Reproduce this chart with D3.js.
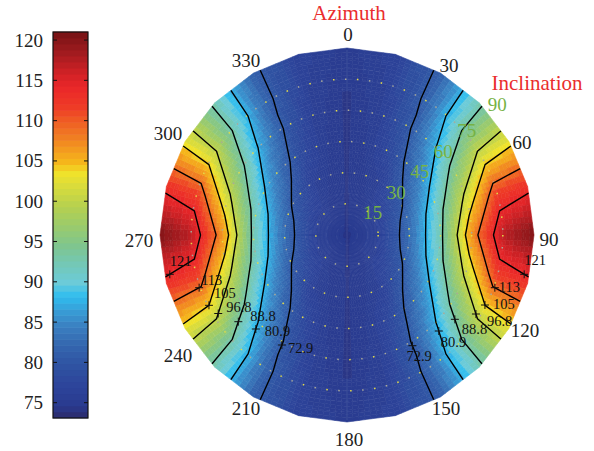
<!DOCTYPE html>
<html><head><meta charset="utf-8">
<script src="https://cdn.jsdelivr.net/npm/d3@7"></script>
<style>
body{margin:0;background:#fff}
svg{display:block}
text{font-family:"Liberation Serif","DejaVu Serif",serif}
</style>
</head><body>
<svg id="c" width="594" height="451"></svg>
<script>
// ================= DATA =================
const azimuths = [0,15,30,45,60,75,90,105,120,135,150,165,180,195,210,225,240,255,270,285,300,315,330,345];
const inclinations = [0,15,30,45,60,75,90];
// surface values, one array per inclination ring, ordered by azimuth
const inc0  = [74.5,74.5,74.5,74.5,74.5,74.5,74.5,74.5,74.5,74.5,74.5,74.5,74.5,74.5,74.5,74.5,74.5,74.5,74.5,74.5,74.5,74.5,74.5,74.5];
const inc15 = [74.5,74.9,75.2,75.6,75.8,75.9,76.0,75.9,75.8,75.6,75.2,74.9,74.5,74.9,75.2,75.6,75.8,75.9,76.0,75.9,75.8,75.6,75.2,74.9];
const inc30 = [74.5,75.2,75.9,78.2,80.1,81.9,82.6,81.9,80.1,78.2,75.9,75.2,74.5,75.2,75.9,78.2,80.1,81.9,82.6,81.9,80.1,78.2,75.9,75.2];
const inc45 = [74.5,75.6,78.2,82.6,87.1,90.9,92.0,90.9,87.1,82.6,78.2,75.6,74.5,75.6,78.2,82.6,87.1,90.9,92.0,90.9,87.1,82.6,78.2,75.6];
const inc60 = [74.5,75.8,80.1,87.2,95.1,102.0,107.0,102.0,95.1,87.2,80.1,75.8,74.5,75.8,80.1,87.2,95.1,102.0,107.0,102.0,95.1,87.2,80.1,75.8];
const inc75 = [74.5,76.2,81.0,91.0,102.0,112.0,117.0,112.0,102.0,91.0,81.0,76.2,74.5,76.2,81.0,91.0,102.0,112.0,117.0,112.0,102.0,91.0,81.0,76.2];
const inc90 = [75.0,76.5,81.2,92.0,103.0,113.0,120.5,113.0,103.0,92.0,81.2,76.5,75.0,76.5,81.2,92.0,103.0,113.0,120.5,113.0,103.0,92.0,81.2,76.5];
const colorDomain = [73.1, 121.0];
const azimuthTicks = [0,30,60,90,120,150,180,210,240,270,300,330];
const inclinationTicks = [15,30,45,60,75,90];
const colorbarTicks = [75,80,85,90,95,100,105,110,115,120];
// contour lines (drawn on the surface field) and their printed labels
const contourLevels = [80.5, 87.5, 93.0, 100.0, 104.0, 109.0, 114.0];
const contourLabels = ["72.9","80.9","88.8","96.8","105","113","121"];

// ================= STYLE / LAYOUT =================
const cmapStops = [
 [0.000,"#2b2a6a"],[0.031,"#2a3a8f"],[0.081,"#2d449a"],[0.134,"#2f52a2"],[0.186,"#3465ae"],
 [0.238,"#3a80c1"],[0.280,"#389fd8"],[0.315,"#2ebdef"],[0.351,"#6ccbd8"],[0.392,"#72c8bb"],
 [0.445,"#7fc58f"],[0.497,"#9acb6c"],[0.547,"#b5d050"],[0.599,"#d8dc3c"],[0.635,"#f1e22a"],
 [0.660,"#f5b91b"],[0.695,"#f39a1f"],[0.729,"#f07c22"],[0.772,"#ef5a24"],[0.806,"#ee3b26"],
 [0.858,"#ea2629"],[0.894,"#d02226"],[0.946,"#a11b1f"],[1.000,"#761214"]
];
const cx = 347, cy = 235, R = 187;
const cb = {x:53, y:32, w:35, h:386};
const azLabelR = 202;
// small per-label nudges for the azimuth labels (same order as azimuthTicks)
const azLabelNudge = [[1,1],[1,5],[0,8],[0,4],[3,-6],[-2,-1],[2,2],[0,-1],[6,19],[-6,5],[-4,-1],[0,0]];
// + marker rows (px below centre) for left / right labels, and text offsets
const labelRowLeft  = [110, 94, 86.7, 78.5, 70.3, 52.7, 39.3];
const labelRowRight = [110.7, 96, 84.3, 79, 70, 52.7, 39.3];
const textOffLeft  = [[6,8],[9,7],[12,-1],[8,-2],[5,-7],[2,-3],[0,-8]];
const textOffRight = [[-6,15],[2,16],[7,15],[11,12],[8,4],[4,4],[0,-9]];

const svg = d3.select("#c");
svg.append("rect").attr("width",594).attr("height",451).attr("fill","#fff");

const rScale = d3.scaleLinear().domain([0,90]).range([0,R]);
const aScale = d3.scaleLinear().domain([0,360]).range([0,2*Math.PI]);
const vScale = d3.scaleLinear().domain(colorDomain).range([0,1]).clamp(true);
const cmap = d3.scaleLinear().domain(cmapStops.map(d=>d[0])).range(cmapStops.map(d=>d[1]))
  .interpolate(d3.interpolateRgb).clamp(true);
const NC = 64;
function colorOf(v){ const k = Math.max(0, Math.min(NC-1, Math.floor(vScale(v)*NC))); return cmap((k+0.5)/NC); }

const rows = [inc0, inc15, inc30, inc45, inc60, inc75, inc90];
const nA = azimuths.length + 1, nI = inclinations.length;
function nodeAz(i){ return i < azimuths.length ? azimuths[i] : 360; }
function node(i,j){ const a = aScale(nodeAz(i)), r = rScale(inclinations[j]); return [cx + r*Math.sin(a), cy - r*Math.cos(a)]; }
function val(i,j){ return rows[j][i % azimuths.length]; }
function bil(p00,p10,p01,p11,u,v){ return (1-u)*(1-v)*p00 + u*(1-v)*p10 + (1-u)*v*p01 + u*v*p11; }
function mapXY(gx, gy){
  let i = Math.max(0, Math.min(Math.floor(gx), nA-2)), j = Math.max(0, Math.min(Math.floor(gy), nI-2));
  const u = gx - i, v = gy - j;
  const a = node(i,j), b = node(i+1,j), c = node(i,j+1), d = node(i+1,j+1);
  return [bil(a[0],b[0],c[0],d[0],u,v), bil(a[1],b[1],c[1],d[1],u,v)];
}

// ---- surface ----
const S = 8, quads = [];
for (let i=0;i<nA-1;i++) for (let j=0;j<nI-1;j++) for (let a=0;a<S;a++) for (let b=0;b<S;b++){
  const u0=a/S,u1=(a+1)/S,v0=b/S,v1=(b+1)/S;
  const pts=[mapXY(i+u0,j+v0),mapXY(i+u1,j+v0),mapXY(i+u1,j+v1),mapXY(i+u0,j+v1)];
  const value = bil(val(i,j),val(i+1,j),val(i,j+1),val(i+1,j+1),(u0+u1)/2,(v0+v1)/2);
  quads.push({pts, value});
}
svg.append("g").selectAll("path").data(quads).join("path")
  .attr("d", d => "M" + d.pts.map(p=>p[0].toFixed(2)+","+p[1].toFixed(2)).join("L") + "Z")
  .attr("fill", d => colorOf(d.value)).attr("stroke", d => colorOf(d.value)).attr("stroke-width",0.6);

// ---- faint mesh lines ----
const gMesh = svg.append("g").attr("fill","none");
gMesh.selectAll("circle").data(d3.range(5,90,5)).join("circle")
  .attr("cx",cx).attr("cy",cy).attr("r",d=>rScale(d))
  .attr("stroke","#ffffff").attr("stroke-opacity",0.08).attr("stroke-width",0.8).attr("stroke-dasharray","4 3");
gMesh.append("line").attr("x1",cx).attr("x2",cx).attr("y1",cy-R+2).attr("y2",cy+R-2)
  .attr("stroke","#ffffff").attr("stroke-opacity",0.12).attr("stroke-width",0.8);

// ---- dotted polar grid rings ----
const gDots = svg.append("g").attr("fill","none");
gDots.selectAll("circle.y").data(inclinationTicks.filter(d=>d<90)).join("circle").attr("class","y")
  .attr("cx",cx).attr("cy",cy).attr("r",d=>rScale(d))
  .attr("stroke","#e4dc48").attr("stroke-width",1.5).attr("stroke-dasharray","1.5 22.5");
gDots.selectAll("circle.g").data(inclinationTicks.filter(d=>d<90)).join("circle").attr("class","g")
  .attr("cx",cx).attr("cy",cy).attr("r",d=>rScale(d))
  .attr("stroke","#a9a99a").attr("stroke-width",1.5).attr("stroke-dasharray","1.5 22.5").attr("stroke-dashoffset",12);

// ---- contours ----
const grid = new Array(nA*nI);
for (let j=0;j<nI;j++) for (let i=0;i<nA;i++) grid[j*nA+i] = val(i,j);
const cs = d3.contours().size([nA,nI]).thresholds(contourLevels)(grid);
function isBorder(p){ return p[0]<=0 || p[0]>=nA || p[1]<=0 || p[1]>=nI; }
const lines = [];
cs.forEach((c,k)=>{
  c.coordinates.forEach(poly=>poly.forEach(ring=>{
    let pts = ring.slice();
    if (pts.length>1 && pts[0][0]===pts[pts.length-1][0] && pts[0][1]===pts[pts.length-1][1]) pts.pop();
    const bi = pts.findIndex(isBorder);
    const runs = [];
    if (bi < 0) runs.push(pts.concat([pts[0]]));
    else {
      const rot = pts.slice(bi).concat(pts.slice(0,bi));
      let cur = [];
      rot.forEach(p=>{ if (isBorder(p)) { if (cur.length>1) runs.push(cur); cur=[]; } else cur.push(p); });
      if (cur.length>1) runs.push(cur);
    }
    runs.forEach(r=>lines.push({k, pts:r.map(p=>mapXY(p[0]-0.5,p[1]-0.5))}));
  }));
});
const lineGen = d3.line();
svg.append("g").selectAll("path").data(lines).join("path")
  .attr("d",d=>lineGen(d.pts)).attr("fill","none").attr("stroke","#000").attr("stroke-width",1.4)
  .attr("stroke-linejoin","round");

// ---- contour labels ----
function crossing(k, yRow, side){
  let best=null;
  lines.filter(l=>l.k===k).forEach(l=>{
    for (let q=0;q<l.pts.length-1;q++){
      const [x1,y1]=l.pts[q],[x2,y2]=l.pts[q+1];
      if ((y1-yRow)*(y2-yRow) <= 0 && y1!==y2){
        const x = x1 + (yRow-y1)/(y2-y1)*(x2-x1);
        if ((side<0 && x<cx) || (side>0 && x>cx)) { if (!best || Math.abs(x-cx) > Math.abs(best[0]-cx)) best=[x,yRow]; }
      }
    }
  });
  return best;
}
const gLab = svg.append("g");
contourLevels.forEach((lev,k)=>{
  [[-1,labelRowLeft,textOffLeft],[1,labelRowRight,textOffRight]].forEach(([side,rowsY,offs])=>{
    const p = crossing(k, cy + rowsY[k], side);
    if (!p) return;
    gLab.append("path").attr("d",`M${p[0]-4},${p[1]}H${p[0]+4}M${p[0]},${p[1]-4}V${p[1]+4}`)
      .attr("stroke","#111").attr("stroke-width",1);
    gLab.append("text").attr("x",p[0]+offs[k][0]).attr("y",p[1]+offs[k][1])
      .attr("font-size",14.5).attr("fill","#111").text(contourLabels[k]);
  });
});

// ---- azimuth labels ----
svg.append("g").selectAll("text").data(azimuthTicks).join("text")
  .attr("x",(d,i)=>cx + azLabelR*Math.sin(aScale(d)) + azLabelNudge[i][0])
  .attr("y",(d,i)=>cy - azLabelR*Math.cos(aScale(d)) + azLabelNudge[i][1])
  .attr("text-anchor","middle").attr("dominant-baseline","central")
  .attr("font-size",19).attr("fill","#222").text(d=>d);

// ---- inclination labels ----
const incAng = aScale(49);
svg.append("g").selectAll("text").data(inclinationTicks).join("text")
  .attr("x",d=>cx + (rScale(d)+(d===90?12:3))*Math.sin(incAng))
  .attr("y",d=>cy - (rScale(d)+(d===90?12:3))*Math.cos(incAng))
  .attr("text-anchor","middle").attr("dominant-baseline","central")
  .attr("font-size",19).attr("fill","#76b245").text(d=>d);

// ---- titles ----
svg.append("text").attr("x",349).attr("y",20).attr("text-anchor","middle")
  .attr("font-size",21).attr("fill","#ea2d2d").text("Azimuth");
svg.append("text").attr("x",537).attr("y",83).attr("text-anchor","middle").attr("dominant-baseline","central")
  .attr("font-size",21).attr("fill","#ea2d2d").text("Inclination");

// ---- colorbar ----
const cbY = d3.scaleLinear().domain(colorDomain).range([cb.y+cb.h, cb.y]);
const bands = d3.range(NC).map(k=>colorDomain[0] + (colorDomain[1]-colorDomain[0])*k/NC);
const bandH = cb.h/NC;
const gCb = svg.append("g");
gCb.selectAll("rect").data(bands).join("rect")
  .attr("x",cb.x).attr("width",cb.w)
  .attr("y",d=>cbY(d)-bandH-0.3).attr("height",bandH+0.6)
  .attr("fill",d=>colorOf(d + (colorDomain[1]-colorDomain[0])/NC/2));
gCb.append("rect").attr("x",cb.x).attr("y",cb.y).attr("width",cb.w).attr("height",cb.h)
  .attr("fill","none").attr("stroke","#111").attr("stroke-width",1.2);
colorbarTicks.forEach(t=>{
  const y = cbY(t);
  gCb.append("path").attr("d",`M${cb.x},${y}h4M${cb.x+cb.w},${y}h-4`).attr("stroke","#111").attr("stroke-width",1);
  gCb.append("text").attr("x",cb.x-10).attr("y",y).attr("text-anchor","end").attr("dominant-baseline","central")
    .attr("font-size",19).attr("fill","#222").text(t);
});
</script>
</body></html>
